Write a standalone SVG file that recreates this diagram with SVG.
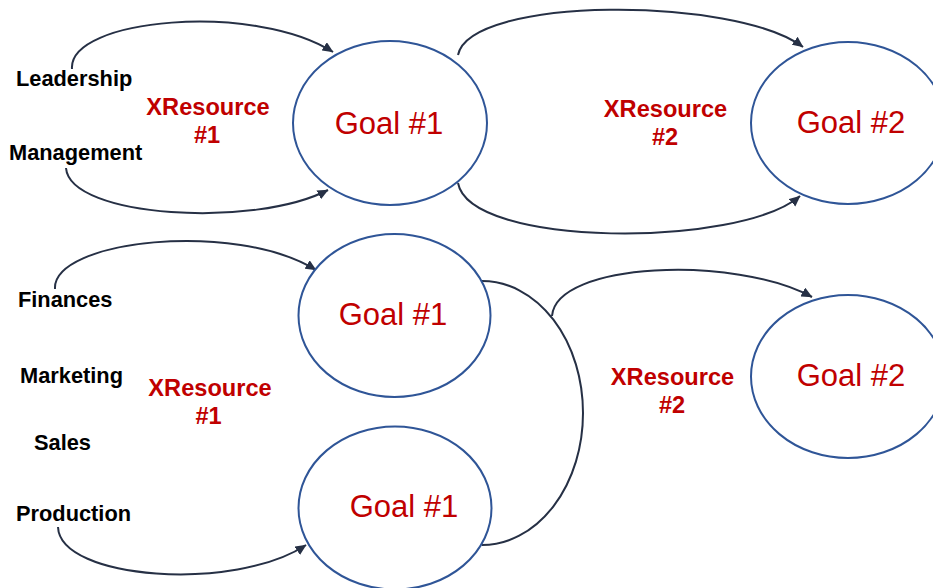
<svg xmlns="http://www.w3.org/2000/svg" width="933" height="588" viewBox="0 0 933 588">
<defs>
<style>
.goal{fill:#fff;stroke:#2f5597;stroke-width:2}
.gt{font-family:"Liberation Sans",Arial,sans-serif;font-size:31px;fill:#c00000;text-anchor:middle}
.rt{font-family:"Liberation Sans",Arial,sans-serif;font-size:23.6px;font-weight:bold;fill:#c00000;text-anchor:middle}
.bt{font-family:"Liberation Sans",Arial,sans-serif;font-size:21.8px;font-weight:bold;fill:#000}
.c{fill:none;stroke:#263045;stroke-width:2}
</style>
<marker id="ah" viewBox="0 0 10 9" refX="9.5" refY="4.5" markerWidth="11" markerHeight="10" markerUnits="userSpaceOnUse" orient="auto">
<path d="M0,0 L10,4.5 L0,9 z" fill="#263045"/>
</marker>
</defs>
<rect width="933" height="588" fill="#fff"/>
<g id="connectors">
<path class="c" marker-end="url(#ah)" d="M72,69 C68,18 255,2 333,52"/>
<path class="c" marker-end="url(#ah)" d="M66,168 C70,218 255,228 328,190"/>
<path class="c" marker-end="url(#ah)" d="M458,55 C470,-4 735,-4 803,47"/>
<path class="c" marker-end="url(#ah)" d="M458,183 C470,248 740,248 800,196"/>
<path class="c" marker-end="url(#ah)" d="M55,289 C52,240 235,220 316,270"/>
<path class="c" marker-end="url(#ah)" d="M58,527 C60,580 235,592 306,545"/>
<path class="c" d="M482,281 A101,132 0 0 1 482,545"/>
<path class="c" marker-end="url(#ah)" d="M552,316 C556,262 735,255 812,297"/>
</g>
<g id="goal1-top"><ellipse class="goal" cx="390" cy="123" rx="97" ry="82"/><text class="gt" x="389" y="134">Goal #1</text></g>
<g id="goal2-top"><ellipse class="goal" cx="848" cy="123" rx="97" ry="81"/><text class="gt" x="851" y="133">Goal #2</text></g>
<g id="goal1-mid"><ellipse class="goal" cx="394.5" cy="315.5" rx="96" ry="81.5"/><text class="gt" x="393" y="325">Goal #1</text></g>
<g id="goal1-bot"><ellipse class="goal" cx="395" cy="508" rx="96.5" ry="81.5"/><text class="gt" x="404" y="517">Goal #1</text></g>
<g id="goal2-bot"><ellipse class="goal" cx="848" cy="376.5" rx="97" ry="81.5"/><text class="gt" x="851" y="386">Goal #2</text></g>
<g id="labels-top">
<text class="bt" x="16" y="86">Leadership</text>
<text class="bt" x="9" y="160">Management</text>
<text class="rt" x="208" y="115">XResource</text>
<text class="rt" x="207" y="143">#1</text>
<text class="rt" x="665.5" y="117">XResource</text>
<text class="rt" x="665" y="145">#2</text>
</g>
<g id="labels-bottom">
<text class="bt" x="18" y="307">Finances</text>
<text class="bt" x="20" y="383">Marketing</text>
<text class="bt" x="34" y="450">Sales</text>
<text class="bt" x="16" y="521">Production</text>
<text class="rt" x="210" y="396">XResource</text>
<text class="rt" x="208.5" y="424">#1</text>
<text class="rt" x="672.5" y="385">XResource</text>
<text class="rt" x="672" y="413">#2</text>
</g>
</svg>
